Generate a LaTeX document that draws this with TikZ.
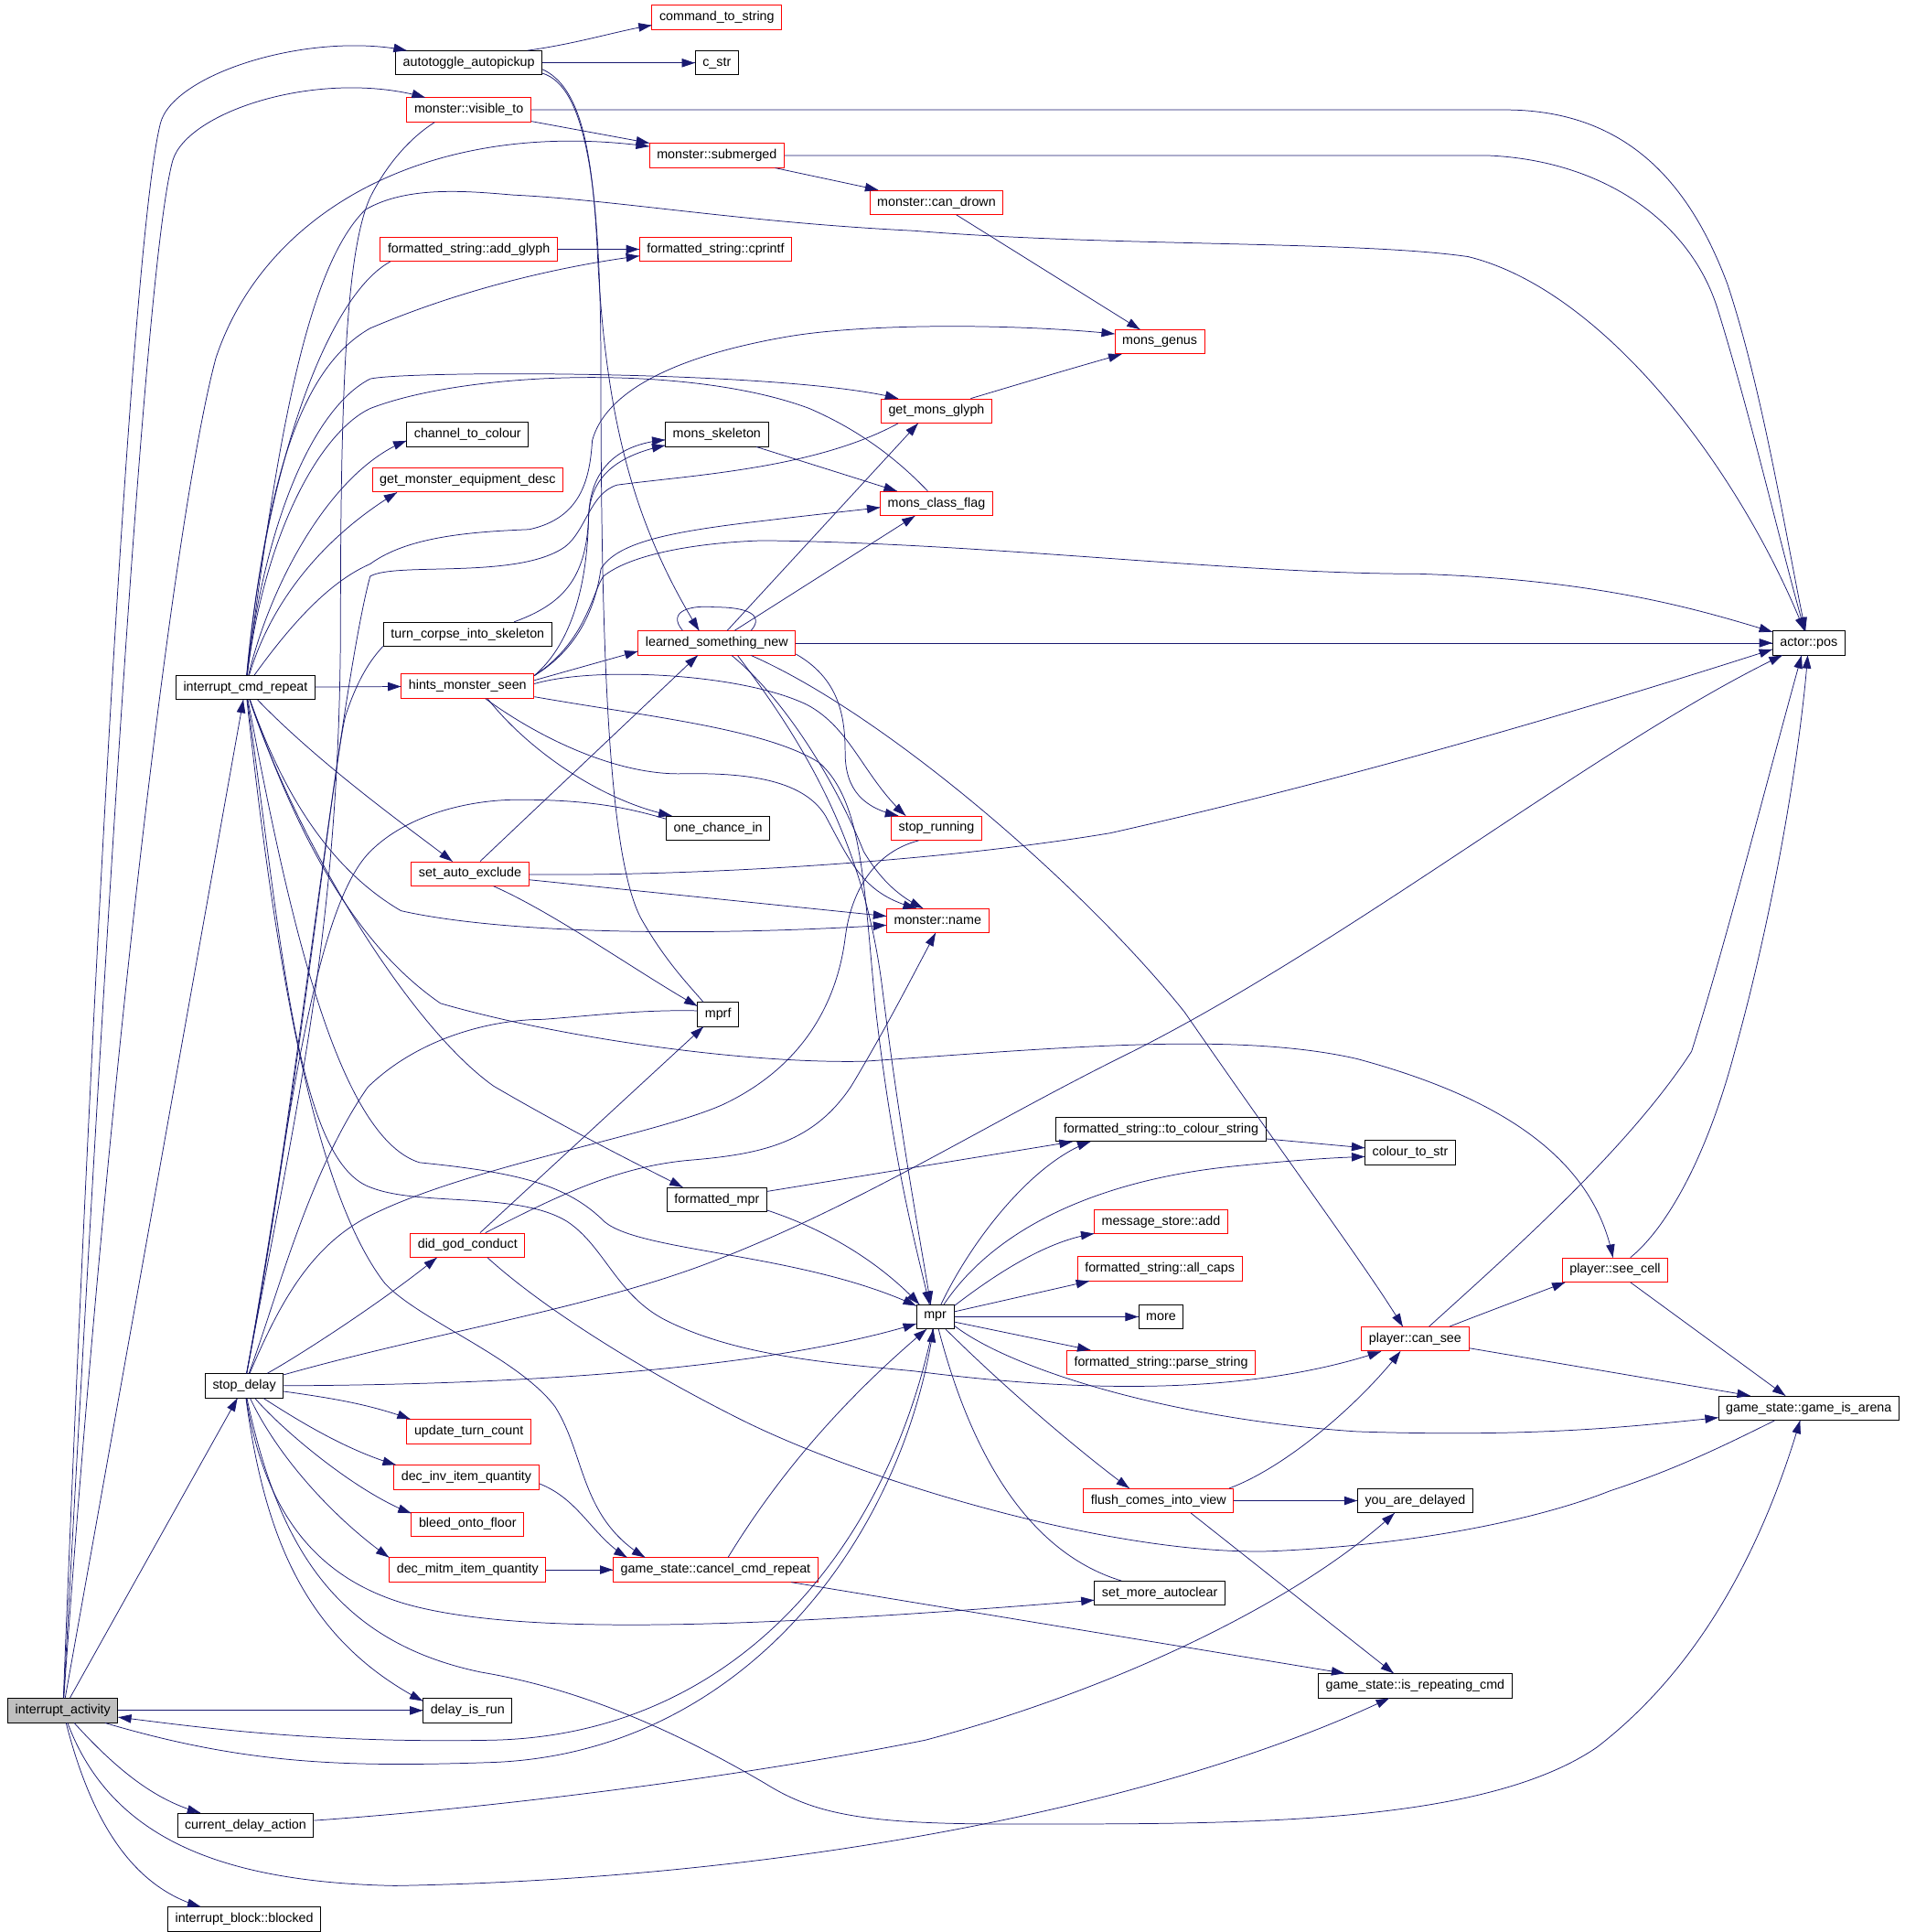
\documentclass[tikz,border=0pt]{standalone}
\usepackage{fontspec}
\setmainfont{Liberation Sans}
\usepackage{tikz}
\usetikzlibrary{arrows.meta}
\usetikzlibrary{decorations.markings}
\definecolor{navy}{HTML}{191970}
\tikzset{call/.style = {navy, line width = 0.55pt,
                        decoration={markings,
                                    mark=at position 1 with {\arrow{Triangle[length=10.5pt, width=7pt]}}},
                        postaction={decorate}}}
\tikzset{fn/.style = {draw, fill = white, line width = 0.7pt, inner xsep = 6pt, inner ysep = 0,
                      minimum height = 19.5pt, font = \fontsize{10.6}{12}\selectfont}}
\tikzset{fnred/.style = {fn, draw = red}}
\tikzset{fnroot/.style = {fn, fill = black!25}}

\begin{document}
\begin{tikzpicture}[x = 1pt, y = -1pt]
      \useasboundingbox [fill = white] (0, 0) rectangle (1544, 1565.5);

      \node [fnroot] (ia) at (51, 1386) {interrupt\_activity};
      \node [fn] (ata) at (380, 51) {autotoggle\_autopickup};
      \node [fnred] (cts) at (581, 14) {command\_to\_string};
      \node [fn] (cstr) at (581, 51) {c\_str};
      \node [fnred] (vis) at (380, 89) {monster::visible\_to};
      \node [fnred] (sub) at (581, 126) {monster::submerged};
      \node [fnred] (cdr) at (759, 164) {monster::can\_drown};
      \node [fnred] (adg) at (380, 202) {formatted\_string::add\_glyph};
      \node [fnred] (cpf) at (580, 202) {formatted\_string::cprintf};
      \node [fnred] (gen) at (940, 277) {mons\_genus};
      \node [fnred] (gmg) at (759, 333) {get\_mons\_glyph};
      \node [fn] (ctc) at (379, 352) {channel\_to\_colour};
      \node [fn] (msk) at (581, 352) {mons\_skeleton};
      \node [fnred] (gmed) at (379, 389) {get\_monster\_equipment\_desc};
      \node [fnred] (mcf) at (759, 408) {mons\_class\_flag};
      \node [fn] (tcs) at (379, 514) {turn\_corpse\_into\_skeleton};
      \node [fnred] (lsn) at (581, 521) {learned\_something\_new};
      \node [fn] (apos) at (1466, 521) {actor::pos};
      \node [fn] (icr) at (199, 557) {interrupt\_cmd\_repeat};
      \node [fnred] (hms) at (379, 556) {hints\_monster\_seen};
      \node [fn] (oci) at (582, 671) {one\_chance\_in};
      \node [fnred] (srun) at (759, 671) {stop\_running};
      \node [fnred] (sae) at (381, 708) {set\_auto\_exclude};
      \node [fnred] (mname) at (760, 746) {monster::name};
      \node [fn] (mprf) at (582, 822) {mprf};
      \node [fn] (tcol) at (941, 915) {formatted\_string::to\_colour\_string};
      \node [fn] (c2s) at (1143, 934) {colour\_to\_str};
      \node [fn] (fmpr) at (581, 972) {formatted\_mpr};
      \node [fnred] (msa) at (941, 990) {message\_store::add};
      \node [fnred] (dgc) at (379, 1009) {did\_god\_conduct};
      \node [fnred] (caps) at (940, 1028) {formatted\_string::all\_caps};
      \node [fnred] (scell) at (1309, 1029) {player::see\_cell};
      \node [fn] (mpr) at (758, 1067) {mpr};
      \node [fn] (more) at (941, 1067) {more};
      \node [fnred] (pstr) at (941, 1104) {formatted\_string::parse\_string};
      \node [fnred] (csee) at (1147, 1085) {player::can\_see};
      \node [fn] (sd) at (198, 1123) {stop\_delay};
      \node [fn] (arena) at (1466, 1141) {game\_state::game\_is\_arena};
      \node [fnred] (utc) at (380, 1160) {update\_turn\_count};
      \node [fnred] (dinv) at (378, 1197) {dec\_inv\_item\_quantity};
      \node [fnred] (flush) at (939, 1216) {flush\_comes\_into\_view};
      \node [fn] (yad) at (1147, 1216) {you\_are\_delayed};
      \node [fnred] (bleed) at (379, 1235) {bleed\_onto\_floor};
      \node [fnred] (dmitm) at (379, 1272) {dec\_mitm\_item\_quantity};
      \node [fnred] (ccr) at (580, 1272) {game\_state::cancel\_cmd\_repeat};
      \node [fn] (sma) at (940, 1291) {set\_more\_autoclear};
      \node [fn] (irc) at (1147, 1366) {game\_state::is\_repeating\_cmd};
      \node [fn] (dir) at (379, 1386) {delay\_is\_run};
      \node [fn] (cda) at (199, 1479) {current\_delay\_action};
      \node [fn] (ibb) at (198, 1555) {interrupt\_block::blocked};

      \draw [call] (ia) .. controls (70, 900) and (105, 200) .. (130, 100) .. controls (140, 60) and (250, 25) .. (ata);
      \draw [call] (ia) .. controls (78, 900) and (115, 220) .. (140, 130) .. controls (152, 90) and (260, 55) .. (vis);
      \draw [call] (ia) .. controls (85, 900) and (140, 420) .. (175, 290) .. controls (215, 170) and (350, 95) .. (sub);
      \draw [call] (ia) -- (icr);
      \draw [call] (ia) -- (sd);
      \draw [call] (ia) -- (dir);
      \draw [call] (ia) .. controls (100, 1440) and (130, 1460) .. (cda);
      \draw [call] (ia) .. controls (75, 1480) and (110, 1530) .. (ibb);
      \draw [call] (ia) .. controls (200, 1430) and (280, 1432) .. (400, 1428) .. controls (600, 1420) and (730, 1250) .. (mpr);
      \draw [call] (ia) .. controls (90, 1490) and (180, 1525) .. (320, 1528) .. controls (650, 1522) and (950, 1460) .. (irc);
      \draw [call] (mpr) .. controls (720, 1250) and (600, 1405) .. (400, 1410) .. controls (250, 1413) and (150, 1398) .. (ia);

      \draw [call] (icr) -- (hms);
      \draw [call] (icr) .. controls (215, 380) and (265, 240) .. (adg.189);
      \draw [call] (icr) .. controls (215, 400) and (240, 300) .. (300, 266) .. controls (380, 232) and (460, 215) .. (cpf.185);
      \draw [call] (icr) .. controls (215, 420) and (255, 330) .. (300, 307) .. controls (330, 300) and (640, 300) .. (gmg.162);
      \draw [call] (icr) .. controls (215, 430) and (260, 350) .. (300, 331) .. controls (380, 300) and (560, 295) .. (656, 331) .. controls (700, 350) and (730, 375) .. (mcf.125);
      \draw [call] (icr) .. controls (220, 470) and (270, 380) .. (ctc.186);
      \draw [call] (icr) .. controls (222, 480) and (270, 430) .. (gmed.190);
      \draw [call] (icr) .. controls (222, 380) and (245, 220) .. (296, 170) .. controls (330, 150) and (380, 155) .. (416, 158) .. controls (500, 162) and (600, 180) .. (741, 187) .. controls (900, 200) and (1100, 195) .. (1190, 208) .. controls (1300, 235) and (1410, 380) .. (apos.110);
      \draw [call] (icr) .. controls (240, 500) and (270, 470) .. (300, 457) .. controls (330, 435) and (380, 431) .. (429, 429) .. controls (470, 420) and (478, 390) .. (480, 357) .. controls (490, 320) and (540, 290) .. (637, 273) .. controls (700, 262) and (820, 262) .. (gen.170);
      \draw [call] (icr) .. controls (260, 620) and (330, 670) .. (sae.145);
      \draw [call] (icr) .. controls (225, 630) and (260, 700) .. (325, 738) .. controls (400, 755) and (550, 760) .. (mname.185);
      \draw [call] (icr) .. controls (235, 660) and (280, 760) .. (357, 813) .. controls (450, 840) and (600, 862) .. (700, 860) .. controls (850, 850) and (1000, 835) .. (1100, 858) .. controls (1200, 885) and (1290, 930) .. (scell.100);
      \draw [call] (icr) .. controls (240, 680) and (330, 830) .. (400, 880) .. controls (460, 915) and (510, 940) .. (fmpr.160);
      \draw [call] (icr) .. controls (230, 720) and (270, 920) .. (340, 942) .. controls (420, 950) and (460, 960) .. (490, 990) .. controls (520, 1015) and (650, 1015) .. (mpr.150);
      \draw [call] (icr) .. controls (228, 760) and (240, 940) .. (300, 962) .. controls (340, 978) and (420, 965) .. (460, 990) .. controls (490, 1010) and (500, 1050) .. (540, 1070) .. controls (600, 1100) and (680, 1105) .. (741, 1111) .. controls (850, 1125) and (1000, 1135) .. (csee.200);
      \draw [call] (icr) .. controls (220, 750) and (250, 960) .. (312, 1040) .. controls (340, 1070) and (420, 1100) .. (450, 1140) .. controls (475, 1180) and (470, 1230) .. (ccr.170);

      \draw [call] (hms.5) -- (lsn.186);
      \draw [call] (hms.9) .. controls (465, 520) and (476, 470) .. (477, 420) .. controls (478, 380) and (500, 360) .. (msk.186);
      \draw [call] (hms.9) .. controls (470, 525) and (483, 490) .. (487, 461) .. controls (500, 440) and (540, 431) .. (619, 422) .. controls (660, 417) and (690, 414) .. (mcf.184);
      \draw [call] (hms.9) .. controls (475, 520) and (480, 480) .. (489, 467) .. controls (510, 450) and (560, 440) .. (618, 438) .. controls (800, 440) and (1000, 465) .. (1150, 465) .. controls (1300, 470) and (1380, 495) .. (apos.163);
      \draw [call] (hms.-32) .. controls (430, 610) and (490, 650) .. (oci.165);
      \draw [call] (hms.2) .. controls (480, 540) and (600, 545) .. (654, 571) .. controls (690, 590) and (700, 630) .. (srun.158);
      \draw [call] (hms.-35) .. controls (440, 600) and (500, 627) .. (550, 627) .. controls (600, 626) and (650, 630) .. (669, 661) .. controls (690, 700) and (700, 725) .. (mname.150);
      \draw [call] (hms.-9) .. controls (520, 580) and (620, 590) .. (664, 618) .. controls (700, 650) and (700, 720) .. (710, 820) .. controls (725, 950) and (745, 1020) .. (mpr.115);

      \draw [call] (lsn.-31) .. controls (650, 600) and (700, 680) .. (715, 800) .. controls (730, 920) and (745, 1000) .. (mpr.110);
      \draw [call] (lsn.-40) .. controls (640, 570) and (680, 640) .. (700, 690) .. controls (715, 715) and (730, 727) .. (mname.140);
      \draw [call] (lsn.-8) .. controls (680, 550) and (685, 580) .. (685, 610) .. controls (685, 640) and (700, 655) .. (srun.162);
      \draw [call] (lsn.-20) .. controls (720, 580) and (880, 720) .. (960, 820) .. controls (1050, 950) and (1110, 1030) .. (csee.135);
      \draw [call] (lsn) -- (apos);
      \draw [call] (lsn.50) -- (gmg.-146);
      \draw [call] (lsn.35) -- (mcf.-150);
      \draw [call] (lsn.160) .. controls (540, 495) and (560, 490) .. (580, 492) .. controls (605, 492) and (620, 498) .. (lsn.20);

      \draw [call] (ata.-5) .. controls (470, 70) and (480, 120) .. (484, 200) .. controls (490, 330) and (510, 420) .. (lsn.145);
      \draw [call] (ata.-8) .. controls (475, 70) and (487, 150) .. (487, 300) .. controls (487, 550) and (495, 700) .. (520, 745) .. controls (540, 780) and (560, 800) .. (mprf.140);
      \draw [call] (ata.12) .. controls (470, 35) and (500, 25) .. (cts.187);
      \draw [call] (ata) -- (cstr);

      \draw [call] (vis) -- (sub);
      \draw [call] (vis) -- (1222, 89) .. controls (1320, 90) and (1370, 150) .. (1400, 230) .. controls (1430, 320) and (1450, 450) .. (apos.105);
      \draw [call] (sub) -- (1206, 126) .. controls (1300, 130) and (1370, 180) .. (1392, 250) .. controls (1420, 340) and (1445, 450) .. (apos.108);
      \draw [call] (sub) -- (cdr);
      \draw [call] (cdr) -- (gen);
      \draw [call] (adg) -- (cpf);
      \draw [call] (gmg.20) .. controls (830, 310) and (870, 298) .. (gen.198);
      \draw [call] (msk) -- (mcf);
      \draw [call] (tcs.15) .. controls (455, 490) and (475, 470) .. (477, 420) .. controls (478, 390) and (495, 370) .. (msk.192);

      \draw [call] (sd) .. controls (240, 900) and (276, 750) .. (276, 500) .. controls (276, 300) and (282, 200) .. (300, 160) .. controls (315, 130) and (335, 110) .. (vis.200);
      \draw [call] (sd) .. controls (240, 900) and (270, 620) .. (280, 580) .. controls (290, 550) and (300, 535) .. (tcs.188);
      \draw [call] (sd) .. controls (240, 900) and (275, 560) .. (300, 467) .. controls (320, 455) and (420, 470) .. (458, 443) .. controls (475, 430) and (478, 400) .. (500, 393) .. controls (560, 385) and (660, 380) .. (gmg.-162);
      \draw [call] (sd) .. controls (230, 950) and (250, 740) .. (300, 690) .. controls (330, 660) and (380, 648) .. (420, 648) .. controls (480, 648) and (510, 655) .. (oci.170);
      \draw [call] (sd) .. controls (225, 1060) and (250, 1010) .. (300, 985) .. controls (380, 945) and (530, 920) .. (586, 895) .. controls (660, 860) and (680, 800) .. (685, 760) .. controls (690, 720) and (710, 690) .. (srun.-145);
      \draw [call] (sd) .. controls (225, 1050) and (250, 950) .. (298, 881) .. controls (340, 840) and (400, 826) .. (440, 826) .. controls (480, 823) and (520, 818) .. (mprf.170);
      \draw [call] (sd) .. controls (350, 1080) and (480, 1060) .. (578, 1022) .. controls (700, 975) and (800, 910) .. (918, 852) .. controls (1100, 760) and (1300, 600) .. (apos.-155);
      \draw [call] (sd) .. controls (240, 1100) and (310, 1055) .. (dgc.-158);
      \draw [call] (sd) .. controls (420, 1122) and (620, 1110) .. (mpr.-160);
      \draw [call] (sd) .. controls (270, 1133) and (300, 1138) .. (utc.168);
      \draw [call] (sd) .. controls (240, 1150) and (280, 1175) .. (dinv.170);
      \draw [call] (sd) .. controls (230, 1160) and (290, 1210) .. (bleed.169);
      \draw [call] (sd) .. controls (225, 1180) and (270, 1230) .. (dmitm.171);
      \draw [call] (sd) .. controls (215, 1230) and (260, 1280) .. (330, 1300) .. controls (420, 1325) and (600, 1320) .. (sma.186);
      \draw [call] (sd) .. controls (215, 1250) and (250, 1330) .. (dir.168);
      \draw [call] (sd) .. controls (225, 1250) and (270, 1330) .. (390, 1355) .. controls (480, 1370) and (560, 1410) .. (620, 1445) .. controls (660, 1470) and (700, 1478) .. (815, 1478) .. controls (1000, 1478) and (1200, 1480) .. (1294, 1416) .. controls (1380, 1350) and (1430, 1250) .. (arena.-125);

      \draw [call] (dgc.45) -- (mprf.-140);
      \draw [call] (dgc.35) .. controls (450, 970) and (500, 945) .. (560, 940) .. controls (620, 935) and (660, 925) .. (690, 880) .. controls (720, 830) and (740, 790) .. (mname.-100);
      \draw [call] (dgc.-32) .. controls (440, 1060) and (520, 1110) .. (600, 1150) .. controls (700, 1200) and (900, 1260) .. (1028, 1257) .. controls (1150, 1252) and (1250, 1230) .. (1305, 1208) .. controls (1360, 1190) and (1400, 1170) .. (arena.-160);

      \draw [call] (sae.51) -- (lsn.-147);
      \draw [call] (sae) .. controls (550, 710) and (750, 700) .. (900, 675) .. controls (1100, 630) and (1300, 570) .. (apos.190);
      \draw [call] (sae) -- (mname.175);
      \draw [call] (sae.-28) .. controls (450, 740) and (520, 790) .. (mprf.158);

      \draw [call] (fmpr) -- (tcol.-172);
      \draw [call] (fmpr.-12) .. controls (680, 1000) and (720, 1030) .. (mpr.142);
      \draw [call] (mpr.65) .. controls (790, 1000) and (840, 940) .. (tcol.-170);
      \draw [call] (mpr.55) .. controls (810, 990) and (900, 955) .. (1000, 945) .. controls (1050, 940) and (1080, 938) .. (c2s.185);
      \draw [call] (tcol) -- (c2s.174);
      \draw [call] (mpr.30) .. controls (810, 1030) and (850, 1005) .. (msa.190);
      \draw [call] (mpr.15) -- (caps.-170);
      \draw [call] (mpr) -- (more);
      \draw [call] (mpr.-15) -- (pstr.170);
      \draw [call] (mpr.-25) .. controls (820, 1110) and (950, 1150) .. (1100, 1160) .. controls (1250, 1165) and (1330, 1155) .. (arena.186);
      \draw [call] (mpr.-50) .. controls (820, 1130) and (880, 1180) .. (flush.157);
      \draw [call] (mpr.-75) .. controls (790, 1190) and (840, 1260) .. (sma.162);

      \draw [call] (flush) -- (yad);
      \draw [call] (flush.10) .. controls (1040, 1190) and (1100, 1140) .. (csee.-140);
      \draw [call] (flush.-21) -- (irc.150);
      \draw [call] (ccr) -- (irc.170);
      \draw [call] (ccr.45) .. controls (640, 1180) and (700, 1120) .. (mpr.-125);
      \draw [call] (dinv.-5) .. controls (470, 1215) and (480, 1245) .. (ccr.172);
      \draw [call] (dmitm) -- (ccr);
      \draw [call] (cda) .. controls (400, 1465) and (600, 1440) .. (750, 1410) .. controls (900, 1370) and (1050, 1300) .. (yad.-149);

      \draw [call] (csee.20) .. controls (1200, 1065) and (1240, 1050) .. (scell.-166);
      \draw [call] (csee.42) .. controls (1230, 1010) and (1320, 930) .. (1371, 852) .. controls (1400, 760) and (1430, 640) .. (apos.-120);
      \draw [call] (csee) -- (arena.168);
      \draw [call] (scell.39) .. controls (1345, 1000) and (1380, 950) .. (1406, 852) .. controls (1440, 730) and (1460, 600) .. (apos.-95);
      \draw [call] (scell.-39) -- (arena.152);
\end{tikzpicture}
\end{document}
